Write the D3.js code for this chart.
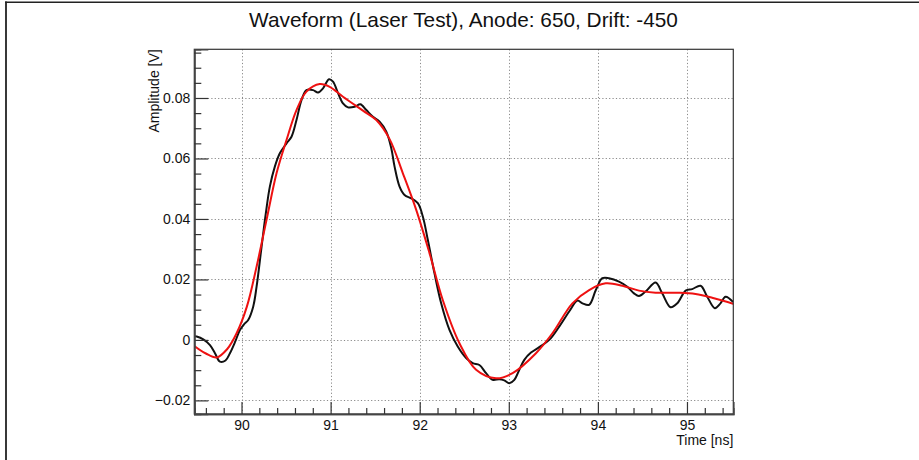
<!DOCTYPE html>
<html>
<head>
<meta charset="utf-8">
<script src="https://cdn.jsdelivr.net/npm/d3@7"></script>
<style>
  html, body { margin: 0; padding: 0; background: #fff; }
  svg { display: block; font-family: "Liberation Sans", Arial, Helvetica, sans-serif; }
</style>
</head>
<body>
<svg id="chart" width="919" height="460"></svg>
<script>
// Recorded waveform (time in ns, amplitude in V)
const waveTime = [89.470, 89.497, 89.571, 89.646, 89.702, 89.758, 89.820, 89.870, 89.930, 89.982, 90.030,
  90.075, 90.131, 90.169, 90.225, 90.273, 90.318, 90.374, 90.430, 90.505, 90.561, 90.617, 90.673,
  90.729, 90.803, 90.859, 90.915, 90.982, 91.027, 91.083, 91.139, 91.195, 91.270, 91.334, 91.401,
  91.475, 91.550, 91.625, 91.681, 91.718, 91.774, 91.830, 91.905, 91.979, 92.035, 92.091, 92.166,
  92.241, 92.334, 92.427, 92.521, 92.595, 92.670, 92.745, 92.819, 92.894, 92.950, 93.006, 93.062,
  93.118, 93.174, 93.249, 93.342, 93.454, 93.566, 93.678, 93.771, 93.827, 93.902, 93.977, 94.050,
  94.125, 94.237, 94.330, 94.405, 94.461, 94.536, 94.648, 94.722, 94.816, 94.891, 94.985, 95.059,
  95.153, 95.227, 95.313, 95.376, 95.433, 95.520];
const waveAmp = [0.0012, 0.0011, 0.0002, -0.0017, -0.0044, -0.0072, -0.0068, -0.0044, -0.0005, 0.0033, 0.0052,
  0.0066, 0.0110, 0.0176, 0.0308, 0.0419, 0.0507, 0.0573, 0.0617, 0.0650, 0.0672, 0.0727, 0.0793,
  0.0826, 0.0826, 0.0818, 0.0832, 0.0862, 0.0854, 0.0816, 0.0782, 0.0769, 0.0771, 0.0779, 0.0760,
  0.0738, 0.0722, 0.0689, 0.0634, 0.0573, 0.0507, 0.0479, 0.0468, 0.0452, 0.0408, 0.0331, 0.0220,
  0.0121, 0.0033, -0.0022, -0.0060, -0.0077, -0.0083, -0.0110, -0.0132, -0.0130, -0.0134, -0.0143, -0.0132,
  -0.0099, -0.0066, -0.0042, -0.0024, 0.0000, 0.0044, 0.0094, 0.0130, 0.0121, 0.0116, 0.0165, 0.0204,
  0.0204, 0.0193, 0.0176, 0.0154, 0.0145, 0.0160, 0.0190, 0.0154, 0.0108, 0.0121, 0.0163, 0.0168,
  0.0179, 0.0143, 0.0105, 0.0121, 0.0143, 0.0125];

// Fitted pulse shape
const fitTime = [89.470, 89.600, 89.721, 89.840, 89.945, 90.060, 90.169, 90.281, 90.393, 90.505, 90.617,
  90.729, 90.878, 90.990, 91.139, 91.363, 91.513, 91.662, 91.811, 91.961, 92.110, 92.259, 92.446,
  92.633, 92.857, 93.043, 93.305, 93.490, 93.714, 93.902, 94.088, 94.275, 94.461, 94.648, 94.909,
  95.096, 95.303, 95.527];
const fitAmp = [-0.0020, -0.0045, -0.0058, -0.0030, 0.0022, 0.0110, 0.0242, 0.0397, 0.0551, 0.0661, 0.0760,
  0.0821, 0.0846, 0.0837, 0.0804, 0.0758, 0.0727, 0.0664, 0.0551, 0.0430, 0.0287, 0.0132, -0.0011,
  -0.0099, -0.0127, -0.0110, -0.0044, 0.0022, 0.0121, 0.0165, 0.0187, 0.0179, 0.0163, 0.0156, 0.0156,
  0.0152, 0.0138, 0.0119];

const xTicks = [90, 91, 92, 93, 94, 95];
const yTicks = [-0.02, 0, 0.02, 0.04, 0.06, 0.08];
const xDomain = [89.47, 95.52];
const yDomain = [-0.0245, 0.0961];

const titleText = "Waveform (Laser Test), Anode: 650, Drift: -450";
const xTitle = "Time [ns]";
const yTitle = "Amplitude [V]";

const W = 919, H = 460;
const frame = { left: 194.3, right: 733.3, top: 49.3, bottom: 414 };

const svg = d3.select("#chart");

const x = d3.scaleLinear().domain(xDomain).range([frame.left, frame.right]);
const y = d3.scaleLinear().domain(yDomain).range([frame.bottom, frame.top]);

// canvas edge lines
svg.append("line").attr("x1", 5).attr("x2", W).attr("y1", 2.2).attr("y2", 2.2)
  .attr("stroke", "#222").attr("stroke-width", 1.6);
svg.append("line").attr("x1", 6).attr("x2", 6).attr("y1", 1.5).attr("y2", H)
  .attr("stroke", "#222").attr("stroke-width", 1.8);

// title
svg.append("text")
  .attr("x", 463.5).attr("y", 26.5)
  .attr("text-anchor", "middle")
  .attr("font-size", 20.8)
  .attr("fill", "#111")
  .text(titleText);

// dotted grid at major ticks
const grid = svg.append("g").attr("stroke", "#8a8a8a").attr("stroke-width", 1)
  .attr("stroke-dasharray", "1.2,2.2");
grid.selectAll("line.gx").data(xTicks).join("line")
  .attr("x1", d => Math.round(x(d)) + 0.5).attr("x2", d => Math.round(x(d)) + 0.5)
  .attr("y1", frame.top).attr("y2", frame.bottom);
grid.selectAll("line.gy").data(yTicks).join("line")
  .attr("y1", d => Math.round(y(d)) + 0.5).attr("y2", d => Math.round(y(d)) + 0.5)
  .attr("x1", frame.left).attr("x2", frame.right);

// curves, clipped to the frame
svg.append("clipPath").attr("id", "plotClip").append("rect")
  .attr("x", frame.left).attr("y", frame.top)
  .attr("width", frame.right - frame.left).attr("height", frame.bottom - frame.top);

const plot = svg.append("g").attr("clip-path", "url(#plotClip)");

const line = d3.line()
  .x(d => x(d[0])).y(d => y(d[1]))
  .curve(d3.curveCatmullRom.alpha(0.5));

const wave = waveTime.map((t, i) => [t, waveAmp[i]]);
const fit = fitTime.map((t, i) => [t, fitAmp[i]]);

plot.append("path").datum(wave)
  .attr("d", line)
  .attr("fill", "none").attr("stroke", "#111").attr("stroke-width", 2)
  .attr("stroke-linejoin", "round");

plot.append("path").datum(fit)
  .attr("d", line)
  .attr("fill", "none").attr("stroke", "#ee1111").attr("stroke-width", 2)
  .attr("stroke-linejoin", "round");

// frame
svg.append("rect")
  .attr("x", frame.left).attr("y", frame.top)
  .attr("width", frame.right - frame.left).attr("height", frame.bottom - frame.top)
  .attr("fill", "none").attr("stroke", "#333").attr("stroke-width", 1.2);

// axes with inward ticks
const xMinor = d3.range(Math.ceil(xDomain[0] / 0.2) * 0.2, xDomain[1], 0.2)
  .map(v => +v.toFixed(2)).filter(v => Math.abs(v - Math.round(v)) > 1e-6);
const yMinor = d3.range(Math.ceil(yDomain[0] / 0.005) * 0.005, yDomain[1], 0.005)
  .map(v => +v.toFixed(4)).filter(v => Math.abs(v / 0.02 - Math.round(v / 0.02)) > 1e-6);

const xAxis = svg.append("g").attr("transform", `translate(0,${frame.bottom})`)
  .call(d3.axisBottom(x).tickValues(xTicks).tickSize(-12).tickPadding(6).tickFormat(d3.format("d")));
const xAxisMinor = svg.append("g").attr("transform", `translate(0,${frame.bottom})`)
  .call(d3.axisBottom(x).tickValues(xMinor).tickSize(-6).tickFormat(""));

const fmtY = v => Math.abs(v) < 1e-9 ? "0" : d3.format(".2f")(v);
const yAxis = svg.append("g").attr("transform", `translate(${frame.left},0)`)
  .call(d3.axisLeft(y).tickValues(yTicks).tickSize(-14).tickPadding(4).tickFormat(fmtY));
const yAxisMinor = svg.append("g").attr("transform", `translate(${frame.left},0)`)
  .call(d3.axisLeft(y).tickValues(yMinor).tickSize(-7).tickFormat(""));

[xAxis, xAxisMinor, yAxis, yAxisMinor].forEach(g => {
  g.attr("font-size", 14).attr("font-family", "'Liberation Sans', Arial, Helvetica, sans-serif");
  g.select(".domain").attr("stroke", "#444").attr("stroke-width", 1.6);
  g.selectAll(".tick line").attr("stroke", "#333").attr("stroke-width", 1.2);
  g.selectAll(".tick text").attr("fill", "#111");
});

// axis titles
svg.append("text")
  .attr("x", frame.right).attr("y", 445)
  .attr("text-anchor", "end")
  .attr("font-size", 14).attr("fill", "#111")
  .text(xTitle);

svg.append("text")
  .attr("transform", `translate(158.5,${frame.top}) rotate(-90)`)
  .attr("text-anchor", "end")
  .attr("font-size", 14).attr("fill", "#111")
  .text(yTitle);
</script>
</body>
</html>
